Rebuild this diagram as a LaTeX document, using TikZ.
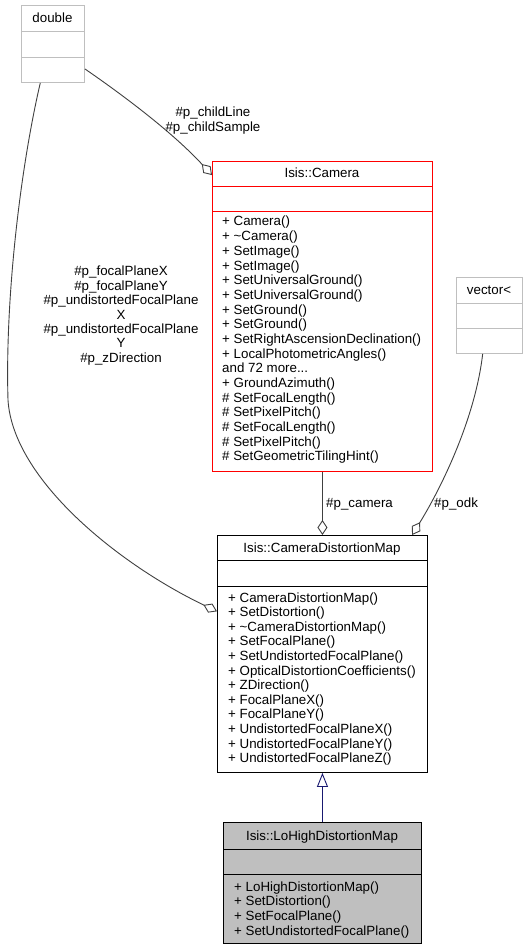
\documentclass[tikz,border=0pt]{standalone}
\usepackage{fontspec}
\setmainfont{Liberation Sans}
\usetikzlibrary{arrows.meta}
\definecolor{boxgray}{HTML}{BFBFBF}
\definecolor{edgegray}{HTML}{404040}
\definecolor{inhblue}{HTML}{191970}
\newcommand\mymoredots{...}
\begin{document}
\begin{tikzpicture}[x=1pt,y=-1pt,
  every node/.style={font=\fontsize{13.33}{14.67}\selectfont, inner sep=0pt, text=black},
  classbox/.style={draw, line width=0.9pt, anchor=north west, inner sep=0pt},
  divider/.style={line width=0.9pt},
  lbl/.style={anchor=base},
  mem/.style={anchor=base west},
  agg/.style={draw=edgegray, line width=0.9pt, -{Diamond[open, length=15pt, width=10pt]}},
  inh/.style={draw=inhblue, line width=0.9pt, -{Triangle[open, length=14pt, width=11pt]}},
]
\fill[white] (0,0) rectangle (529,949);
\useasboundingbox (0,0) rectangle (529,949);

% double
\node[classbox, draw=boxgray, minimum width=63pt, minimum height=77pt] (dbl) at (21,5) {};
\draw[divider, boxgray] (21,31) -- (84,31) (21,57) -- (84,57);
\node[lbl] (dblh) at (52.5,22.5) {double};

% vector
\node[classbox, draw=boxgray, minimum width=66pt, minimum height=76pt] (vec) at (456,277) {};
\draw[divider, boxgray] (456,303) -- (522,303) (456,328) -- (522,328);
\node[lbl] (vech) at (489,294.5) {vector<};

% Isis::Camera
\node[classbox, draw=red, minimum width=220pt, minimum height=310pt] (cam) at (212,161) {};
\draw[divider, red] (212,186) -- (432,186) (212,211) -- (432,211);
\node[lbl] (camh) at (322,178) {Isis::Camera};
\foreach \t [count=\i from 0] in {{+ Camera()},{+ \textasciitilde Camera()},{+ SetImage()},{+ SetImage()},{+ SetUniversalGround()},{+ SetUniversalGround()},{+ SetGround()},{+ SetGround()},{+ SetRightAscensionDeclination()},{+ LocalPhotometricAngles()},{and 72 more\mymoredots},{+ GroundAzimuth()},{\# SetFocalLength()},{\# SetPixelPitch()},{\# SetFocalLength()},{\# SetPixelPitch()},{\# SetGeometricTilingHint()}}
  \node[mem] (camm\i) at (222,226+14.67*\i) {\t};

% Isis::CameraDistortionMap
\node[classbox, minimum width=210pt, minimum height=237pt] (cdm) at (217,535) {};
\draw[divider] (217,560) -- (427,560) (217,586) -- (427,586);
\node[lbl] (cdmh) at (322,552) {Isis::CameraDistortionMap};
\foreach \t [count=\i from 0] in {{+ CameraDistortionMap()},{+ SetDistortion()},{+ \textasciitilde CameraDistortionMap()},{+ SetFocalPlane()},{+ SetUndistortedFocalPlane()},{+ OpticalDistortionCoefficients()},{+ ZDirection()},{+ FocalPlaneX()},{+ FocalPlaneY()},{+ UndistortedFocalPlaneX()},{+ UndistortedFocalPlaneY()},{+ UndistortedFocalPlaneZ()}}
  \node[mem] (cdmm\i) at (228,602+14.6*\i) {\t};

% Isis::LoHighDistortionMap
\node[classbox, fill=boxgray, minimum width=198pt, minimum height=121pt] (lo) at (223,822) {};
\draw[divider] (223,849) -- (421,849) (223,874) -- (421,874);
\node[lbl] (loh) at (322,840) {Isis::LoHighDistortionMap};
\foreach \t [count=\i from 0] in {{+ LoHighDistortionMap()},{+ SetDistortion()},{+ SetFocalPlane()},{+ SetUndistortedFocalPlane()}}
  \node[mem] (lom\i) at (234,891+14.67*\i) {\t};

% connectors
\draw[agg] (dbl.-38) .. controls (130,100) and (175,135) .. (cam.128);
\draw[agg] (dbl.-108) .. controls (20,170) and (5,300) .. (8,400) .. controls (13,480) and (120,565) .. (cdm.158);
\draw[agg] (cam.south) -- (cdm.north);
\draw[agg] (vec.-100) .. controls (475,420) and (440,490) .. (cdm.53);
\draw[inh] (lo.north) -- (cdm.south);

% edge labels
\node[lbl] (la1) at (213,117) {\#p\_childLine};
\node[lbl] (la2) at (213,132) {\#p\_childSample};
\foreach \t [count=\i from 0] in {{\#p\_focalPlaneX},{\#p\_focalPlaneY},{\#p\_undistortedFocalPlane},{X},{\#p\_undistortedFocalPlane},{Y},{\#p\_zDirection}}
  \node[lbl] (lb\i) at (121,276+14.35*\i) {\t};
\node[mem] (lcam) at (326,507) {\#p\_camera};
\node[mem] (lodk) at (434,507) {\#p\_odk};
\end{tikzpicture}
\end{document}
